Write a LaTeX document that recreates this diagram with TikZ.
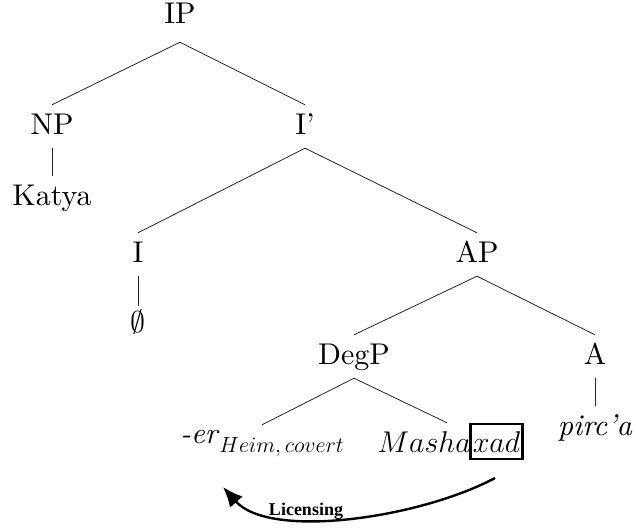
\documentclass[tikz,border=0pt]{standalone}
\usepackage{fix-cm}
\usepackage{fontspec}
\setmainfont{lmroman10-regular.otf}[ItalicFont=lmroman10-italic.otf,
  BoldFont=lmroman10-bold.otf]
\newfontfamily\licfont{Liberation Serif}
\usetikzlibrary{arrows.meta}

\begin{document}
\begin{tikzpicture}[x=1pt,y=-1pt,
  lbl/.style={anchor=base, inner sep=8pt, text height=21pt, text depth=6pt,
              font=\fontsize{30}{36}\selectfont},
  branch/.style={line width=0.8pt, draw=black!85},
  licarrow/.style={line width=2.4pt, -{Latex[length=20pt,width=17pt]}},
  boxed/.style={draw, line width=2.5pt, inner xsep=2.5pt, inner ysep=7pt,
                text height=21pt, text depth=0pt, font=\fontsize{30}{36}\selectfont}]
\useasboundingbox (0,0) rectangle (636,527);

% tree nodes
\node[lbl] (IP)    at (180,24)  {IP};
\node[lbl] (NP)    at (52,134)  {NP};
\node[lbl] (Ibar)  at (305,134) {I’};
\node[lbl] (katya) at (52,205)  {Katya};
\node[lbl] (I)     at (138,262) {I};
\node[lbl] (null)  at (138,332) {$\emptyset$};
\node[lbl] (AP)    at (477,262) {AP};
\node[lbl] (DegP)  at (354,364) {DegP};
\node[lbl] (A)     at (595,364) {A};
\node[lbl] (pirc)  at (595,435) {\textit{pirc’a}};
\node[lbl] (er)    at (262,443)
  {\textit{-er}\raisebox{-9pt}{\fontsize{22}{26}\selectfont$Heim,covert$}};
\node[lbl, anchor=base east, inner xsep=0pt] (masha) at (471,452) {$Masha$};
\node[boxed, anchor=base west] (xad) at (469,452) {$xad$};

% branches
\draw[branch] ([yshift=-4pt]IP.south) -- (NP.north);
\draw[branch] ([yshift=-4pt]IP.south) -- (Ibar.north);
\draw[branch] (NP.south) -- (katya.north);
\draw[branch] (Ibar.south) -- (I.north);
\draw[branch] (Ibar.south) -- (AP.north);
\draw[branch] (I.south) -- ([yshift=-3pt]null.north);
\draw[branch] (AP.south) -- (DegP.north);
\draw[branch] (AP.south) -- (A.north);
\draw[branch] (DegP.south) -- ([yshift=-11pt]er.north);
\draw[branch] (DegP.south) -- ([xshift=-24pt]masha.north east);
\draw[branch] (A.south) -- (pirc.north);

% licensing arrow
\coordinate (licfrom) at (495,478);
\coordinate (licto)   at (223,487);
\draw[licarrow] (licfrom) .. controls (420,518) and (270,540) .. (licto);
\node[anchor=base, inner sep=0pt, font=\licfont\bfseries\fontsize{18}{22}\selectfont]
  (lic) at (306,515) {Licensing};
\end{tikzpicture}
\end{document}
